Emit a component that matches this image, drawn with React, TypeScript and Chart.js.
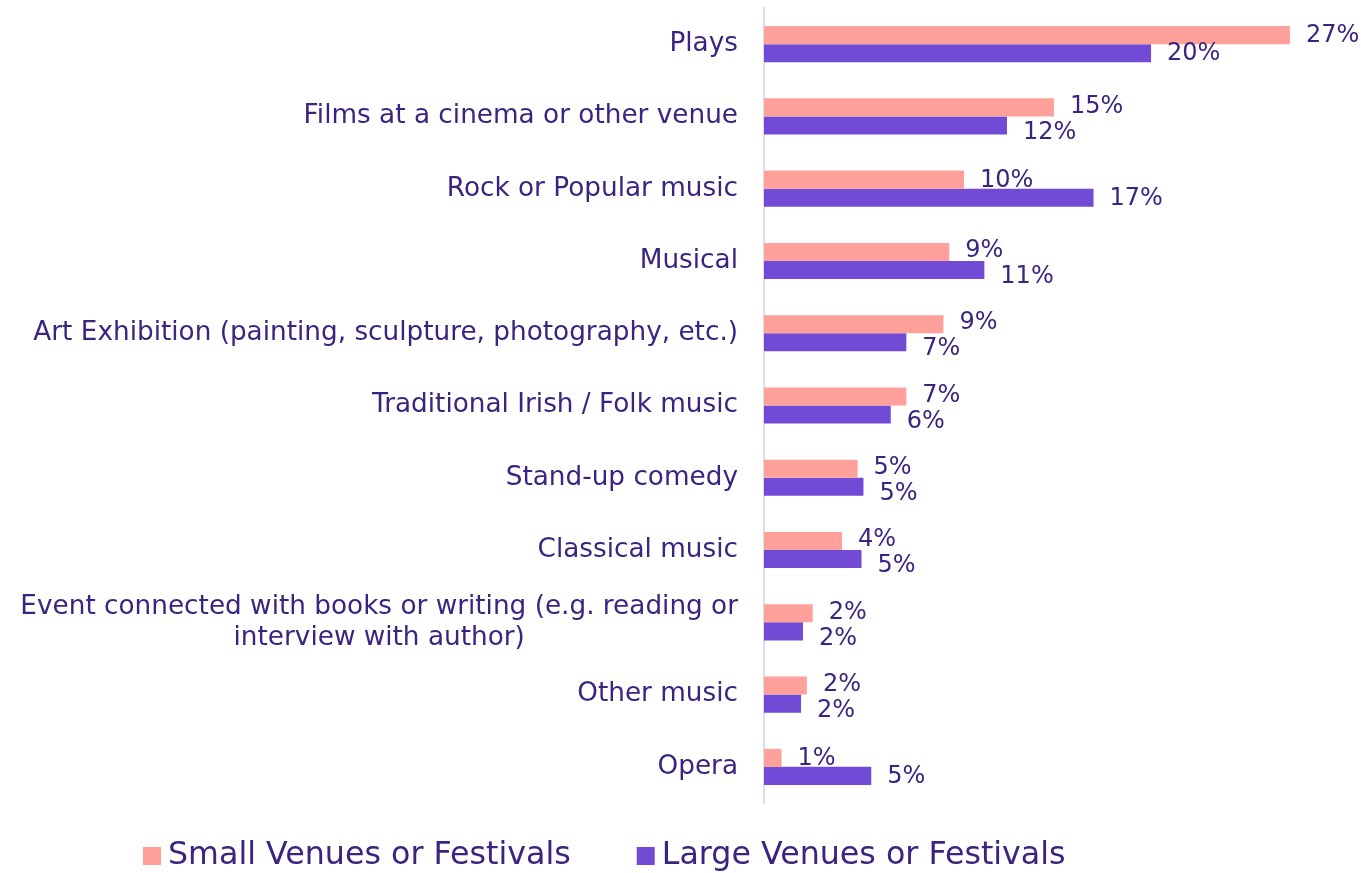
import React, { useEffect, useRef } from "react";
import { Chart, registerables } from "chart.js";

Chart.register(...registerables);

const categories: string[][] = [
  ["Plays"],
  ["Films at a cinema or other venue"],
  ["Rock or Popular music"],
  ["Musical"],
  ["Art Exhibition (painting, sculpture, photography, etc.)"],
  ["Traditional Irish / Folk music"],
  ["Stand-up comedy"],
  ["Classical music"],
  ["Event connected with books or writing (e.g. reading or", "interview with author)"],
  ["Other music"],
  ["Opera"],
];

const smallValues = [26.97, 14.87, 10.26, 9.5, 9.2, 7.3, 4.8, 4.0, 2.5, 2.2, 0.9];
const largeValues = [19.85, 12.46, 16.9, 11.3, 7.3, 6.5, 5.1, 5.0, 2.0, 1.9, 5.5];
const smallLabels = ["27%", "15%", "10%", "9%", "9%", "7%", "5%", "4%", "2%", "2%", "1%"];
const largeLabels = ["20%", "12%", "17%", "11%", "7%", "6%", "5%", "5%", "2%", "2%", "5%"];
const seriesNames = ["Small Venues or Festivals", "Large Venues or Festivals"];
const seriesColors = ["#FFA19A", "#714BD6"];

const FONT = "'DejaVu Sans', sans-serif";
const TEXT = "#3B2480";

const customPlugin = {
  id: "custom",
  afterDatasetsDraw(chart: any) {
    const ctx = chart.ctx;
    const area = chart.chartArea;
    const yScale = chart.scales.y;
    ctx.save();
    // category labels
    ctx.fillStyle = TEXT;
    ctx.font = `26.3px ${FONT}`;
    ctx.textBaseline = "middle";
    const lh = 31;
    categories.forEach((lines, i) => {
      const cy = yScale.getPixelForValue(i);
      const widths = lines.map((l) => ctx.measureText(l).width);
      const maxW = Math.max(...widths);
      const right = area.left - 26;
      const center = right - maxW / 2;
      const top = cy - ((lines.length - 1) * lh) / 2;
      lines.forEach((l, j) => {
        ctx.textAlign = "center";
        ctx.fillText(l, center, top + j * lh);
      });
    });
    // value labels, pushed apart vertically when they collide
    ctx.font = `24px ${FONT}`;
    ctx.textAlign = "left";
    const m0 = chart.getDatasetMeta(0).data;
    const m1 = chart.getDatasetMeta(1).data;
    m0.forEach((b0: any, i: number) => {
      const b1 = m1[i];
      const x0 = b0.x + 16;
      const x1 = b1.x + 16;
      const w0 = ctx.measureText(smallLabels[i]).width;
      const w1 = ctx.measureText(largeLabels[i]).width;
      const overlap = x0 < x1 + w1 && x1 < x0 + w0;
      const y0 = overlap ? b0.y - 1 : b0.y + 1;
      const y1 = overlap ? b1.y + 7 : b1.y + 1;
      ctx.fillText(smallLabels[i], x0, y0);
      ctx.fillText(largeLabels[i], x1, y1);
    });
    // legend
    ctx.font = `31.7px ${FONT}`;
    const ly = 856;
    let x = 143;
    seriesNames.forEach((name, i) => {
      ctx.fillStyle = seriesColors[i];
      ctx.fillRect(x, ly - 9, 18, 18);
      ctx.fillStyle = TEXT;
      ctx.fillText(name, x + 25, ly);
      x += 25 + ctx.measureText(name).width + 66;
    });
    ctx.restore();
  },
};

export default function App() {
  const ref = useRef<HTMLCanvasElement>(null);
  useEffect(() => {
    if (!ref.current) return;
    const chart = new Chart(ref.current, {
      type: "bar",
      data: {
        labels: categories.map((c) => c.join(" ")),
        datasets: [
          {
            label: seriesNames[0],
            data: smallValues,
            backgroundColor: seriesColors[0],
            categoryPercentage: 0.5,
            barPercentage: 1,
          },
          {
            label: seriesNames[1],
            data: largeValues,
            backgroundColor: seriesColors[1],
            categoryPercentage: 0.5,
            barPercentage: 1,
          },
        ],
      },
      options: {
        indexAxis: "y",
        animation: false,
        responsive: false,
        maintainAspectRatio: false,
        layout: { padding: { top: 8, bottom: 70, right: 12, left: 0 } },
        plugins: {
          legend: { display: false },
          tooltip: { enabled: false },
        },
        scales: {
          x: { display: false, min: 0, max: 30 },
          y: {
            grid: { display: false },
            border: { display: true, color: "#D9DEEA", width: 2 },
            ticks: { display: false },
            afterFit: (scale: any) => {
              scale.width = 764;
            },
          },
        },
      },
      plugins: [customPlugin],
    });
    return () => chart.destroy();
  }, []);
  return (
    <div style={{ position: "fixed", left: 0, top: 0, width: 1361, height: 873, background: "#fff" }}>
      <canvas ref={ref} width={1361} height={873} style={{ width: 1361, height: 873 }} />
    </div>
  );
}
